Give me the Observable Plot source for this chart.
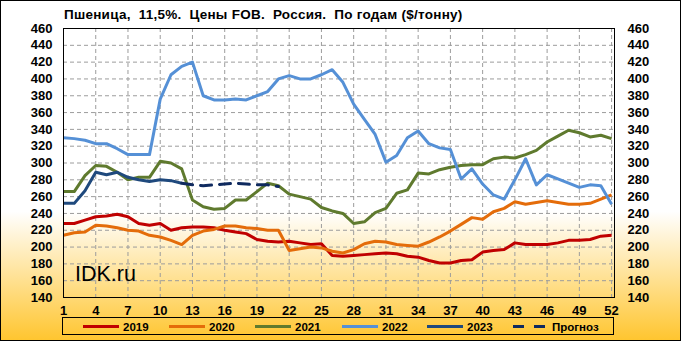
<!DOCTYPE html>
<html>
<head>
<meta charset="utf-8">
<script src="https://cdn.jsdelivr.net/npm/d3@7"></script>
<script src="https://cdn.jsdelivr.net/npm/@observablehq/plot@0.6"></script>
<style>
  html, body { margin: 0; padding: 0; background: #fff; }
  #wrap { position: absolute; left: 0; top: 0; width: 681px; height: 341px; overflow: hidden;
    background: linear-gradient(180deg, #ffffff 0%, #ffffff 62%, #ffc52e 100%); }
  #border { position: absolute; left: 0; top: 0; width: 679px; height: 339px; border: 1px solid #000; pointer-events: none; }
  #title { position: absolute; left: 64px; top: 8px; font: bold 13.5px/13px "Liberation Sans", Arial, sans-serif; letter-spacing: 0.25px; white-space: pre; color: #000; }
  #chart { position: absolute; left: 0; top: 0; }
  #brand { position: absolute; left: 75px; top: 262px; font: 21.5px "Liberation Sans", Arial, sans-serif; color: #000; }
  #legend { position: absolute; left: 62px; top: 317px; width: 550px; height: 16px; border: 1px solid #000; }
  .li { position: absolute; top: 0; height: 16px; }
  .sw { position: absolute; top: 7px; height: 3px; width: 36px; }
  .lt { position: absolute; top: 3px; font: bold 11.5px/12px "Liberation Sans", Arial, sans-serif; color: #000; white-space: pre; }
</style>
</head>
<body>
<div id="wrap">
  <div id="chart"></div>
  <div id="title"></div>
  <div id="brand">IDK.ru</div>
  <div id="legend"></div>
  <div id="border"></div>
</div>
<script>
const titleText = "Пшеница,  11,5%.  Цены FOB.  Россия.  По годам ($/тонну)";
const weeks = [1,2,3,4,5,6,7,8,9,10,11,12,13,14,15,16,17,18,19,20,21,22,23,24,25,26,27,28,29,30,31,32,33,34,35,36,37,38,39,40,41,42,43,44,45,46,47,48,49,50,51,52];
const xTicks = [1,4,7,10,13,16,19,22,25,28,31,34,37,40,43,46,49,52];
const yTicks = [140,160,180,200,220,240,260,280,300,320,340,360,380,400,420,440,460];

const y2019 = [228,228,232,236,237,239,236,228,226,228,220,223,224,224,223,220,218,216,209,207,206,207,205,203,204,190,189,190,191,192,193,192,189,188,184,181,181,184,185,194,196,197,205,203,203,203,205,208,208,209,213,214];
const y2020 = [214,217,218,226,225,223,220,219,214,212,208,203,214,219,221,225,225,223,222,220,220,196,198,200,199,195,193,197,204,207,206,203,202,201,206,212,219,227,235,233,242,246,254,251,253,255,253,251,251,252,257,262];
const y2021 = [266,266,285,297,296,289,280,283,283,302,300,293,256,248,245,246,256,256,266,276,273,263,260,257,247,243,240,228,230,241,246,264,268,288,287,292,295,297,298,298,305,307,306,310,315,325,332,339,336,331,333,329];
const y2022 = [330,329,327,323,323,317,310,310,310,376,405,415,420,380,375,375,376,375,380,385,400,404,400,400,405,411,396,370,352,334,301,309,330,338,323,318,316,281,293,275,262,257,280,305,274,286,281,276,271,274,273,251];
const y2023 = [252,252,267,289,286,289,283,280,278,280,279,276];
const forecastWeeks = [12,13,14,15,16,17,18,19,20,21];
const forecast = [276,274,273,274,275,276,275,274,274,272];

const seriesNames = ["2019","2020","2021","2022","2023","Прогноз"];
const seriesColors = ["#c00000","#e46c0a","#5f7a2e","#5590d6","#1f497d","#0f2a5f"];

const mk = (vals, xs) => vals.map((v, i) => ({x: xs[i], y: v}));
const lines = [
  mk(y2019, weeks), mk(y2020, weeks), mk(y2021, weeks), mk(y2022, weeks), mk(y2023, weeks)
];
const fc = mk(forecast, forecastWeeks);

const font = "'Liberation Sans', Arial, sans-serif";
const chart = Plot.plot({
  width: 681, height: 315,
  marginTop: 28, marginBottom: 18, marginLeft: 63, marginRight: 67,
  x: {domain: [1, 52.27]},
  y: {domain: [140, 460]},
  style: {background: "transparent", fontFamily: font, fontSize: "13px", color: "#000", overflow: "visible"},
  marks: [
    Plot.ruleY(yTicks.slice(1, -1), {stroke: "#9c9c9c", strokeDasharray: "4,3", strokeWidth: 1}),
    Plot.ruleX(xTicks.slice(1), {stroke: "#9c9c9c", strokeDasharray: "4,3", strokeWidth: 1}),
    Plot.axisY(yTicks, {anchor: "left", tickSize: 0, tickPadding: 11, label: null, fontWeight: "bold", fontSize: 13}),
    Plot.axisY(yTicks, {anchor: "right", tickSize: 0, tickPadding: 13, label: null, fontWeight: "bold", fontSize: 13}),
    Plot.axisX(xTicks, {anchor: "bottom", tickSize: 0, tickPadding: 8, label: null, fontWeight: "bold", fontSize: 13}),
    ...lines.map((d, i) => Plot.line(d, {x: "x", y: "y", stroke: seriesColors[i], strokeWidth: 3, strokeLinejoin: "round", strokeLinecap: "butt"})),
    Plot.line(fc, {x: "x", y: "y", stroke: seriesColors[5], strokeWidth: 3, strokeDasharray: "11,8"}),
    Plot.frame({stroke: "#000", strokeWidth: 1})
  ]
});
document.getElementById("chart").appendChild(chart);
document.getElementById("title").textContent = titleText;

// legend
const leg = document.getElementById("legend");
const legX = [20, 106, 192, 279, 364, 450];
seriesNames.forEach((name, i) => {
  const item = document.createElement("div");
  item.className = "li";
  item.style.left = legX[i] + "px";
  const segs = i < 5 ? [[0, 36]] : [[0, 11], [21, 11]];
  segs.forEach(([l, w]) => {
    const sw = document.createElement("div");
    sw.className = "sw";
    sw.style.left = l + "px";
    sw.style.width = w + "px";
    sw.style.background = seriesColors[i];
    item.appendChild(sw);
  });
  const t = document.createElement("div");
  t.className = "lt";
  t.style.left = (i < 5 ? 40 : 39) + "px";
  t.textContent = name;
  item.appendChild(t);
  leg.appendChild(item);
});
</script>
</body>
</html>
